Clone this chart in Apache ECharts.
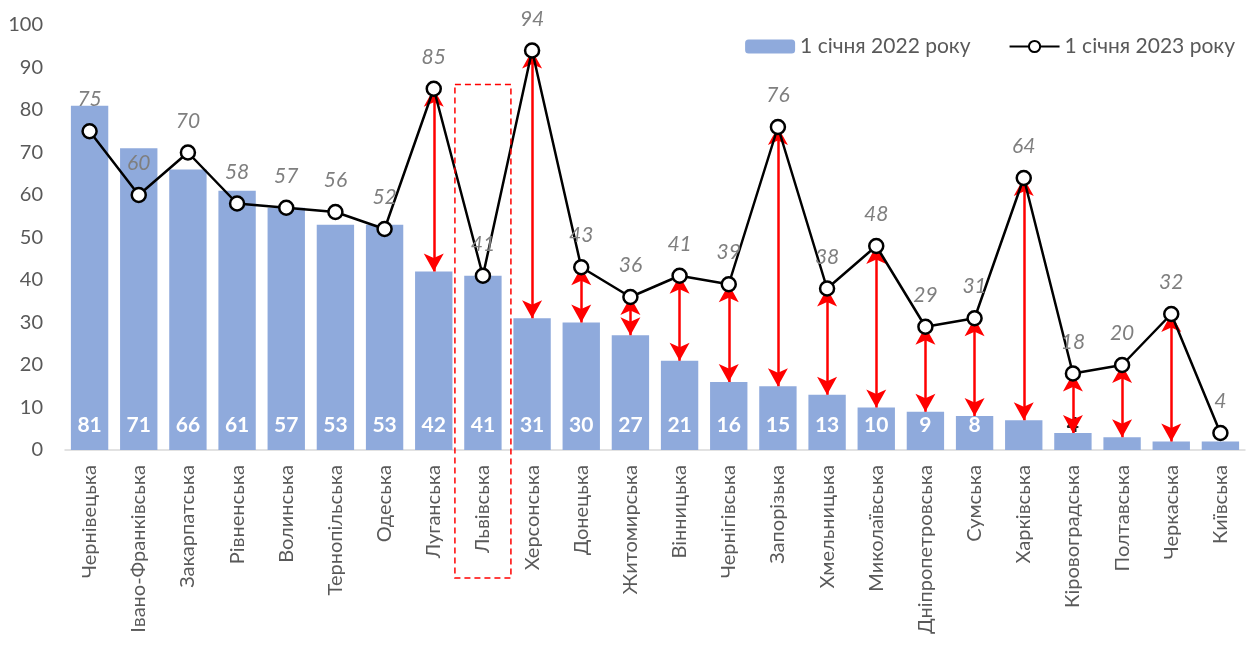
<!DOCTYPE html>
<html>
<head>
<meta charset="utf-8">
<script src="https://cdn.jsdelivr.net/npm/echarts@6/dist/echarts.min.js"></script>
<style>
  html, body { margin: 0; padding: 0; background: #fff; }
  #chart { width: 1248px; height: 651px; }
</style>
</head>
<body>
<div id="chart"></div>
<script>
// області
var regions = ['Чернівецька', 'Івано-Франківська', 'Закарпатська', 'Рівненська', 'Волинська',
  'Тернопільська', 'Одеська', 'Луганська', 'Львівська', 'Херсонська', 'Донецька', 'Житомирська',
  'Вінницька', 'Чернігівська', 'Запорізька', 'Хмельницька', 'Миколаївська', 'Дніпропетровська',
  'Сумська', 'Харківська', 'Кіровоградська', 'Полтавська', 'Черкаська', 'Київська'];
// 1 січня 2022 року
var y2022 = [81, 71, 66, 61, 57, 53, 53, 42, 41, 31, 30, 27, 21, 16, 15, 13, 10, 9, 8, 7, 4, 3, 2, 2];
// 1 січня 2023 року
var y2023 = [75, 60, 70, 58, 57, 56, 52, 85, 41, 94, 43, 36, 41, 39, 76, 38, 48, 29, 31, 64, 18, 20, 32, 4];
// стрілки різниці
var arrowIdx = [7, 9, 10, 11, 12, 13, 14, 15, 16, 17, 18, 19, 20, 21, 22];
var highlight = 'Львівська';

var fontFam = 'Lato, "Noto Sans", sans-serif';
var chart = echarts.init(document.getElementById('chart'));

var arrows = arrowIdx.map(function (i) {
  return [{ coord: [regions[i], y2022[i]] }, { coord: [regions[i], y2023[i]] }];
});

var barData = y2022.map(function (v, i) {
  var item = { value: v };
  if (v < 4 || i === 19) {
    item.label = { show: false };
  } else if (v < 8) {
    item.label = { color: '#222' };
  }
  return item;
});

chart.setOption({
  animation: false,
  textStyle: { fontFamily: fontFam },
  legend: {
    top: 31,
    right: 8,
    itemWidth: 50,
    itemHeight: 14,
    itemGap: 38,
    textStyle: { fontSize: 21, color: '#595959', fontFamily: fontFam },
    data: ['1 січня 2022 року', '1 січня 2023 року']
  },
  grid: { left: 65, right: 3, top: 25, bottom: 201 },
  xAxis: {
    type: 'category',
    data: regions,
    axisLine: { lineStyle: { color: '#d9d9d9', width: 1.5 } },
    axisTick: { show: false },
    axisLabel: { rotate: 90, fontSize: 20, color: '#595959', margin: 15, interval: 0, fontFamily: fontFam }
  },
  yAxis: {
    type: 'value',
    min: 0,
    max: 100,
    interval: 10,
    splitLine: { show: false },
    axisLine: { show: false },
    axisTick: { show: false },
    axisLabel: { fontSize: 20, color: '#595959', margin: 22, fontFamily: fontFam }
  },
  series: [{
    name: '1 січня 2022 року',
    type: 'bar',
    barCategoryGap: '24%',
    itemStyle: { color: '#8faadc' },
    label: {
      show: true,
      position: 'insideBottom',
      distance: 14,
      color: '#fff',
      fontWeight: 'bold',
      fontSize: 21,
      fontFamily: fontFam
    },
    data: barData,
    markLine: {
      silent: true,
      symbol: ['arrow', 'arrow'],
      symbolSize: [15, 18],
      label: { show: false },
      lineStyle: { color: '#ff0000', width: 2.5, type: 'solid' },
      data: arrows,
      z: 5
    }
  }, {
    name: '1 січня 2023 року',
    type: 'line',
    z: 10,
    symbol: 'circle',
    symbolSize: 14,
    lineStyle: { color: '#000', width: 2.5 },
    itemStyle: { color: '#fff', borderColor: '#000', borderWidth: 2.5 },
    label: {
      show: true,
      position: 'top',
      distance: 13,
      color: '#7f7f7f',
      fontStyle: 'italic',
      fontSize: 21,
      fontFamily: fontFam
    },
    data: y2023
  }]
});

// червона пунктирна рамка навколо Львівської
var pTop = chart.convertToPixel({ xAxisIndex: 0, yAxisIndex: 0 }, [highlight, 86]);
var pZero = chart.convertToPixel({ xAxisIndex: 0, yAxisIndex: 0 }, [highlight, 0]);
chart.setOption({
  graphic: [{
    type: 'rect',
    z: 20,
    shape: { x: pTop[0] - 28, y: pTop[1], width: 56, height: pZero[1] + 128 - pTop[1] },
    style: { fill: 'none', stroke: '#ff0000', lineWidth: 1.5, lineDash: [6, 4] }
  }]
});
</script>
</body>
</html>
